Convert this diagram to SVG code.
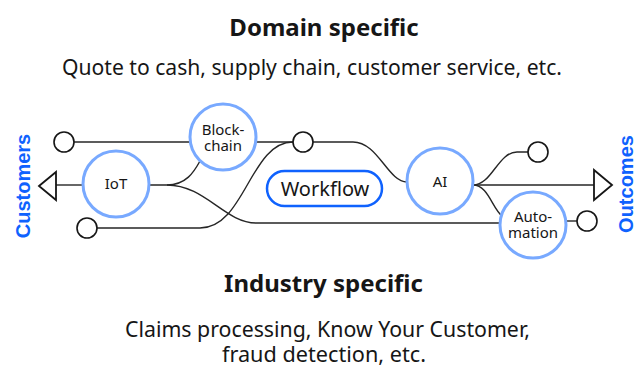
<svg xmlns="http://www.w3.org/2000/svg" width="643" height="367" viewBox="0 0 643 367">
<style>
.bg{fill:#ffffff}
.h{font-family:"Noto Sans","Liberation Sans",sans-serif;font-weight:bold;font-size:24px;fill:#161616;text-anchor:middle}
.s{font-family:"Noto Sans","Liberation Sans",sans-serif;font-size:21px;fill:#161616;text-anchor:middle}
.side{font-family:"Liberation Sans",Arial,sans-serif;font-weight:bold;font-size:20px;fill:#0f62fe;text-anchor:middle}
.big{fill:#ffffff;stroke:#78a9ff;stroke-width:3}
.small{fill:#ffffff;stroke:#161616;stroke-width:1.6}
.lbl{font-family:"Noto Sans","Liberation Sans",sans-serif;font-size:15px;fill:#161616;text-anchor:middle}
.wf{font-family:"Noto Sans","Liberation Sans",sans-serif;font-size:20px;fill:#161616;text-anchor:middle}
.c{fill:none;stroke:#262626;stroke-width:1.4}
.tri{fill:#ffffff;stroke:#161616;stroke-width:1.8;stroke-linejoin:miter}
</style>
<rect class="bg" x="0" y="0" width="643" height="367"/>
<g id="titles">
<text class="h" x="324" y="36">Domain specific</text>
<text class="s" x="312" y="75" textLength="500" lengthAdjust="spacingAndGlyphs">Quote to cash, supply chain, customer service, etc.</text>
<text class="h" x="323.5" y="292">Industry specific</text>
<text class="s" x="327.5" y="337" textLength="405" lengthAdjust="spacingAndGlyphs">Claims processing, Know Your Customer,</text>
<text class="s" x="324" y="362" textLength="204" lengthAdjust="spacingAndGlyphs">fraud detection, etc.</text>
</g>
<g id="connectors">
<path class="c" d="M74,142 H190"/>
<path class="c" d="M256,142 H293"/>
<path class="c" d="M313,142 H353 C378,142 388,182 407,182"/>
<path class="c" d="M56,185 H83"/>
<path class="c" d="M149,185 H167 C186,185 194,172 200,161"/>
<path class="c" d="M167,185 C205,185 225,223 256,223 H500"/>
<path class="c" d="M97,228 H200 C245,228 250,142 293,142"/>
<path class="c" d="M473,185 H594"/>
<path class="c" d="M473,185 C492,185 498,152 517,152 H528"/>
<path class="c" d="M473,185 C488,185 492,208 502,216"/>
<path class="c" d="M566,221 H577"/>
</g>
<g id="customers">
<polygon class="tri" points="39,186 56,172 56,200"/>
<text class="side" transform="translate(30,186) rotate(-90)" x="0" y="0">Customers</text>
</g>
<g id="outcomes">
<polygon class="tri" points="612,185 594,170 594,200"/>
<text class="side" transform="translate(633,184) rotate(-90)" x="0" y="0">Outcomes</text>
</g>
<g id="in-top"><circle class="small" cx="64" cy="142" r="10"/></g>
<g id="in-bottom"><circle class="small" cx="87" cy="228" r="10"/></g>
<g id="mid-top"><circle class="small" cx="303" cy="142" r="10"/></g>
<g id="out-top"><circle class="small" cx="538" cy="152" r="10"/></g>
<g id="out-bottom"><circle class="small" cx="587" cy="221" r="10"/></g>
<g id="iot">
<circle class="big" cx="116" cy="184" r="33"/>
<text class="lbl" x="116" y="189">IoT</text>
</g>
<g id="blockchain">
<circle class="big" cx="223" cy="137" r="33"/>
<text class="lbl" x="223" y="135">Block-</text>
<text class="lbl" x="223" y="151">chain</text>
</g>
<g id="workflow">
<rect x="267" y="171" width="115" height="35" rx="17.5" fill="#ffffff" stroke="#0f62fe" stroke-width="2.5"/>
<text class="wf" x="325" y="196">Workflow</text>
</g>
<g id="ai">
<circle class="big" cx="440" cy="181" r="33"/>
<text class="lbl" x="440" y="187">AI</text>
</g>
<g id="automation">
<circle class="big" cx="533" cy="225" r="33"/>
<text class="lbl" x="533" y="222">Auto-</text>
<text class="lbl" x="533" y="238">mation</text>
</g>
</svg>
